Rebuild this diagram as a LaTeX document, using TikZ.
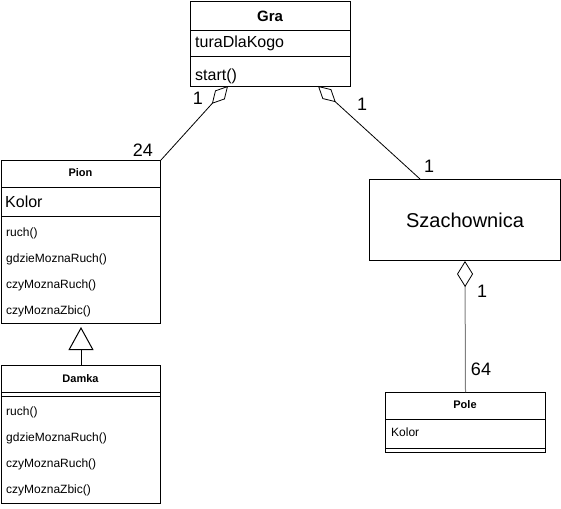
\documentclass[tikz,border=0pt]{standalone}
\usepackage{fontspec}
\setmainfont{Liberation Sans}
\usetikzlibrary{arrows.meta}
\tikzset{
  cls/.style={draw, line width=1pt, anchor=north west, inner sep=0pt},
  sep/.style={line width=1pt},
  lbl/.style={inner sep=0pt, font=\fontsize{18}{20}\selectfont},
  small/.style={inner sep=0pt, anchor=west, font=\fontsize{12}{14}\selectfont},
  smallb/.style={inner sep=0pt, font=\fontsize{11}{13}\selectfont\bfseries},
  agg/.style={line width=0.8pt, -{Diamond[open, length=24pt, width=13pt, line width=0.8pt]}},
  inh/.style={line width=1pt, -{Triangle[open, length=23pt, width=25pt, line width=1pt]}}
}
\begin{document}
\begin{tikzpicture}[x=1pt, y=-1pt]
\useasboundingbox (0,0) rectangle (561,508);
% Gra
\node[cls, minimum width=160pt, minimum height=85pt] (gra) at (190,1) {};
\draw[sep] (190,31) -- (350,31);
\draw[sep] (190,57) -- (350,57);
\node[inner sep=0pt, font=\fontsize{15}{17}\selectfont\bfseries] (graT) at (270,16) {Gra};
\node[inner sep=0pt, anchor=west, font=\fontsize{16}{18}\selectfont] (graA) at (195,43) {turaDlaKogo};
\node[inner sep=0pt, anchor=west, font=\fontsize{16}{18}\selectfont] (graM) at (195,76) {start()};
\coordinate (gl) at (228,86);
\coordinate (gr) at (318,86);
% Pion
\node[cls, minimum width=159pt, minimum height=163pt] (pion) at (1,160) {};
\draw[sep] (1,187) -- (160,187);
\draw[sep] (1,216) -- (160,216);
\node[smallb] (pionT) at (80.5,173) {Pion};
\node[inner sep=0pt, anchor=west, font=\fontsize{16}{18}\selectfont] (pionA) at (5,202) {Kolor};
\node[small] (p1) at (6,233) {ruch()};
\node[small] (p2) at (6,259) {gdzieMoznaRuch()};
\node[small] (p3) at (6,285) {czyMoznaRuch()};
\node[small] (p4) at (6,311) {czyMoznaZbic()};
% Damka
\node[cls, minimum width=159pt, minimum height=138pt] (damka) at (1,365) {};
\draw[sep] (1,392) -- (160,392);
\draw[sep] (1,396) -- (160,396);
\node[smallb] (damkaT) at (80.5,379) {Damka};
\node[small] (d1) at (6,412) {ruch()};
\node[small] (d2) at (6,438) {gdzieMoznaRuch()};
\node[small] (d3) at (6,464) {czyMoznaRuch()};
\node[small] (d4) at (6,490) {czyMoznaZbic()};
% Szachownica
\node[cls, minimum width=191pt, minimum height=81pt] (sz) at (369,179) {};
\node[inner sep=0pt, font=\fontsize{20}{22}\selectfont] (szT) at (sz.center) {Szachownica};
\coordinate (szt) at (420,179);
% Pole
\node[cls, minimum width=160pt, minimum height=60pt] (pole) at (385,392) {};
\draw[sep] (385,419) -- (545,419);
\draw[sep] (385,448) -- (545,448);
\node[smallb] (poleT) at (465,405) {Pole};
\node[small] (poleA) at (391,432) {Kolor};
% connectors
\draw[agg] (pion.north east) -- (gl);
\draw[agg] (szt) -- (gr);
\draw[line width=1pt, draw=gray, -{Diamond[open, length=26pt, width=16pt, line width=0.8pt, color=black]}] (pole.north) -- (sz.south);
\draw[inh] (damka.north) -- ([yshift=-3pt]pion.south);
% labels
\node[lbl] (l1) at (198,98) {1};
\node[lbl] (l24) at (143,150) {24};
\node[lbl] (l3) at (362,104) {1};
\node[lbl] (l4) at (429,166) {1};
\node[lbl] (l5) at (482,291) {1};
\node[lbl] (l64) at (481,369) {64};
\end{tikzpicture}
\end{document}
